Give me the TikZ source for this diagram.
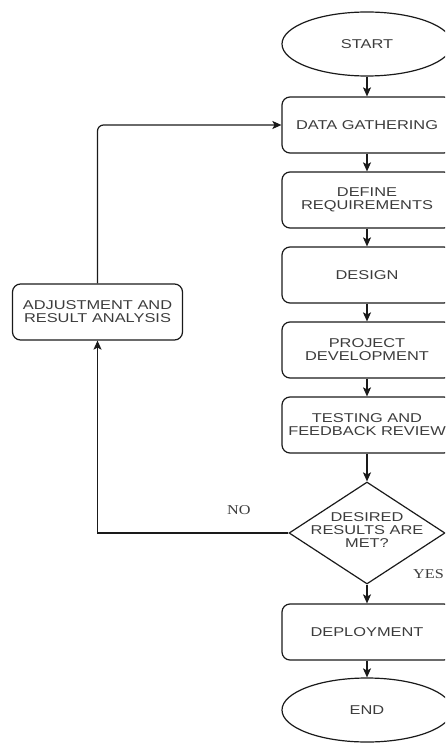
\documentclass[tikz,border=0pt]{standalone}
\usepackage{fontspec}
\usetikzlibrary{shapes.geometric,arrows.meta}
\newfontfamily\boxfont[FakeStretch=1.28]{Liberation Sans}
\newfontfamily\lblfont[FakeStretch=1.2]{Liberation Serif}
\definecolor{linec}{HTML}{1A1A1A}
\definecolor{textc}{HTML}{3C3C3C}
\tikzset{
  flow/.style={draw=linec, line width=1.2pt, text=textc,
    font=\boxfont\fontsize{12.8}{13}\selectfont, align=center, inner sep=0pt},
  procbox/.style={flow, rounded corners=8pt, minimum width=170pt, minimum height=56pt},
  termnode/.style={flow, ellipse, minimum width=170pt, minimum height=64pt},
  decnode/.style={flow, diamond, minimum width=156pt, minimum height=102pt},
  conn/.style={draw=linec, line width=1.2pt, -{Stealth[length=9pt,width=8pt,inset=2pt]}},
  answer/.style={font=\lblfont\fontsize{13.5}{14}\selectfont, text=textc, inner sep=0pt}
}
\begin{document}
\begin{tikzpicture}[x=1pt,y=-1pt]
\useasboundingbox (0,0) rectangle (445,746);
\clip (0,0) rectangle (445,746);
\node[termnode] (start) at (367,44) {START};
\node[procbox] (data) at (367,125) {DATA GATHERING};
\node[procbox] (req) at (367,200) {DEFINE\\REQUIREMENTS};
\node[procbox] (design) at (367,275) {DESIGN};
\node[procbox] (dev) at (367,350) {PROJECT\\DEVELOPMENT};
\node[procbox] (test) at (367,425) {TESTING AND\\FEEDBACK REVIEW};
\node[decnode] (dec) at (367,533) {\raisebox{-3pt}{\smash{\makebox[0pt]{\begin{tabular}{@{}c@{}}DESIRED\\RESULTS ARE\\MET?\end{tabular}}}}};
\node[procbox] (deploy) at (367,632) {DEPLOYMENT};
\node[termnode] (end) at (367,710) {END};
\node[procbox] (adjust) at (97.5,312) {ADJUSTMENT AND\\RESULT ANALYSIS};
\coordinate (cornerlow) at (97.5,533);
\coordinate (cornerhigh) at (97.5,125);
\draw[conn] (start) -- (data);
\draw[conn] (data) -- (req);
\draw[conn] (req) -- (design);
\draw[conn] (design) -- (dev);
\draw[conn] (dev) -- (test);
\draw[conn] (test) -- (dec);
\draw[conn] (dec) -- (deploy);
\draw[conn] (deploy) -- (end);
\draw[conn] (dec.west) -- (cornerlow) -- (adjust.south);
\draw[conn, rounded corners=6pt] (adjust.north) -- (cornerhigh) -- (data.west);
\node[answer, anchor=base west] (no) at (227,514) {NO};
\node[answer, anchor=base east] (yes) at (444,578) {YES};
\end{tikzpicture}
\end{document}
